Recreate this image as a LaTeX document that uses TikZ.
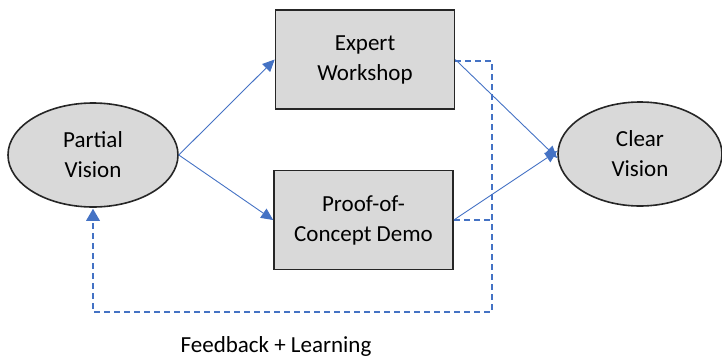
\documentclass[tikz,border=0pt]{standalone}
\usepackage{fontspec}
\setmainfont{Carlito}
\usetikzlibrary{shapes.geometric,arrows.meta}
\definecolor{linkblue}{HTML}{4472C4}
\definecolor{boxgray}{HTML}{D9D9D9}
\tikzset{
  txt/.style={font=\fontsize{23}{30}\selectfont},
  stage/.style={txt, draw=black!85, line width=1.6pt, fill=boxgray, minimum width=179pt, minimum height=99pt, align=center, inner sep=0pt},
  vision/.style={txt, ellipse, draw=black!85, line width=1.6pt, fill=boxgray, minimum width=170pt, minimum height=104pt, align=center, inner sep=0pt},
  flow/.style={draw=linkblue, line width=0.9pt, -{Triangle[length=12pt,width=11pt]}},
  fb/.style={draw=linkblue, line width=1.6pt, dash pattern=on 6pt off 4pt},
}
\begin{document}
\begin{tikzpicture}[x=1pt,y=-1pt]
\useasboundingbox (0,0) rectangle (722,359);
\node[vision] (pv) at (93,155) {Partial\\Vision};
\node[vision, minimum width=164pt] (cv) at (640,154) {Clear\\Vision};
\node[stage] (ew) at (365,59.5) {Expert\\Workshop};
\node[stage] (pc) at (363.5,220) {Proof-of-\\Concept Demo};
\coordinate (src) at (pv.east);
\draw[flow] (src) -- (ew.west);
\draw[flow] (src) -- (pc.west);
\draw[flow] (ew.east) -- ([yshift=-4pt]cv.west);
\draw[flow] (pc.east) -- ([yshift=3pt]cv.west);
\coordinate (r1) at (492,61);
\coordinate (r2) at (492,312);
\coordinate (l2) at (93,312);
\coordinate (tipbase) at ([yshift=-13pt]pv.south);
\draw[fb] ([yshift=-1.5pt]ew.east) -- (r1) -- (r2) -- (l2) -- (tipbase);
\draw[fb] (pc.east) -- (r1 |- pc.east);
\draw[draw=none, fill=linkblue] ([yshift=-1pt]pv.south) -- ([xshift=-7pt]tipbase) -- ([xshift=7pt]tipbase) -- cycle;
\node[txt, anchor=center] (lbl) at (276,346) {Feedback + Learning};
\end{tikzpicture}
\end{document}
